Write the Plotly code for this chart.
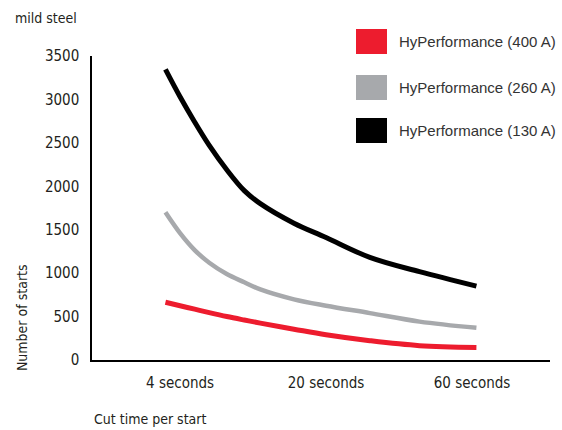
import plotly.graph_objects as go

# Data
categories = ["4 seconds", "20 seconds", "60 seconds"]
category_pos = [0, 1, 2]
# sample positions along the category axis
sample_pos = [-0.1, 0.0, 0.1, 0.2, 0.32, 0.44, 0.55, 0.78, 1.0, 1.3, 1.64, 2.03]
starts_130 = [3345, 3030, 2740, 2470, 2190, 1950, 1800, 1575, 1410, 1182, 1017, 850]
starts_260 = [1700, 1460, 1265, 1120, 990, 895, 812, 698, 625, 540, 442, 370]
starts_400 = [665, 625, 585, 545, 500, 460, 425, 355, 290, 222, 165, 145]
series_names = ["HyPerformance (400 A)", "HyPerformance (260 A)", "HyPerformance (130 A)"]
series_colors = ["#ED1C2E", "#A7A9AC", "#000000"]
series_widths = [5, 4.5, 5]
y_ticks = [0, 500, 1000, 1500, 2000, 2500, 3000, 3500]

COND = "DejaVu Sans Condensed, Liberation Sans Narrow, Arial Narrow, sans-serif"
TXT = "#231f20"

fig = go.Figure()
for name, vals, col, w in zip(series_names, [starts_400, starts_260, starts_130], series_colors, series_widths):
    fig.add_trace(go.Scatter(x=sample_pos, y=vals, mode="lines", name=name,
                             line=dict(color=col, width=w, shape="spline", smoothing=1),
                             showlegend=False, hoverinfo="skip"))

# legend drawn manually (big squares)
sq_rows = [(1.0888, 1.0066), (0.9375, 0.8553), (0.7961, 0.7138)]
for name, col, (y1, y0) in zip(series_names, series_colors, sq_rows):
    fig.add_shape(type="rect", xref="paper", yref="paper", x0=0.5764, x1=0.6441, y0=y0, y1=y1,
                  fillcolor=col, line=dict(width=0))
    fig.add_annotation(xref="paper", yref="paper", x=0.666, y=(y0 + y1) / 2, text=name,
                       showarrow=False, xanchor="left", yanchor="middle",
                       font=dict(family="Liberation Sans, Arial, sans-serif", size=15, color="#333333"))

fig.add_annotation(xref="paper", yref="paper", x=-0.1725, y=1.125, text="mild steel", showarrow=False,
                   xanchor="left", yanchor="middle", font=dict(family=COND, size=14, color=TXT))
fig.add_annotation(xref="paper", yref="paper", x=-0.1528, y=0.138, text="Number of starts", showarrow=False,
                   textangle=-90, xanchor="center", yanchor="middle", font=dict(family=COND, size=14, color=TXT))
fig.add_annotation(xref="paper", yref="paper", x=0.0, y=-0.194, text="Cut time per start", showarrow=False,
                   xanchor="left", yanchor="middle", font=dict(family=COND, size=14, color=TXT))

fig.update_layout(
    width=562, height=430,
    margin=dict(l=92, r=12, t=56, b=70, autoexpand=False),
    plot_bgcolor="white", paper_bgcolor="white",
    xaxis=dict(range=[-0.603, 2.534], tickvals=category_pos, ticktext=categories,
               showgrid=False, zeroline=False, showline=True, linecolor="#000000", linewidth=1.5,
               ticks="", ticklabelstandoff=8, fixedrange=True, automargin=False,
               tickfont=dict(family=COND, size=15, color=TXT)),
    yaxis=dict(range=[0, 3500], tickvals=y_ticks, showgrid=False, zeroline=False, automargin=False,
               showline=True, linecolor="#000000", linewidth=1.5, ticks="", ticklabelstandoff=8,
               tickfont=dict(family=COND, size=15, color=TXT)),
)

fig.write_html("out.html", config={"displayModeBar": False},
               post_script="document.body.style.margin='0';document.body.style.overflow='hidden';")
